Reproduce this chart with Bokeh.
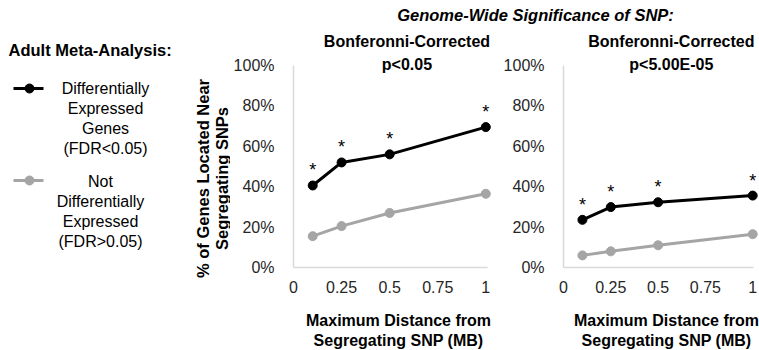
from math import pi

from bokeh.embed import file_html
from bokeh.resources import INLINE
from bokeh.plotting import figure
from bokeh.layouts import column, row
from bokeh.models import (Range1d, FixedTicker, PrintfTickFormatter,
                          CustomJSTickFormatter)
from bokeh.core.properties import value

# ---- data -------------------------------------------------------------
distance_mb = [0.1, 0.25, 0.5, 1.0]
x_ticks = [0, 0.25, 0.5, 0.75, 1]
y_ticks = [0, 20, 40, 60, 80, 100]

# % of genes located near segregating SNPs, SNP significance p<0.05
de_p05 = [40.6, 52.0, 56.0, 69.5]
not_de_p05 = [15.5, 20.5, 27.0, 36.5]
# SNP significance p<5.00E-05
de_p5e5 = [23.6, 29.9, 32.3, 35.6]
not_de_p5e5 = [6.0, 8.0, 11.0, 16.5]

significance = ["*", "*", "*", "*"]

suptitle = "Genome-Wide Significance of SNP:"
panel_titles = [("Bonferonni-Corrected", "p<0.05"),
                ("Bonferonni-Corrected", "p<5.00E-05")]
x_title = ("Maximum Distance from", "Segregating SNP (MB)")
y_title = ("% of Genes Located Near", "Segregating SNPs")
legend_heading = "Adult Meta-Analysis:"
legend_de = ["Differentially", "Expressed", "Genes", "(FDR<0.05)"]
legend_not_de = ["Not", "Differentially", "Expressed", "(FDR>0.05)"]

# ---- style ------------------------------------------------------------
FONT = "Liberation Sans"
FS = "16px"
FS_BIG = "16.5px"
BLACK = "#000000"
GRAY = "#a5a5a5"
AXIS = "#d9d9d9"
TICK_TXT = "#262626"


def blank(width, y_top, y_bottom):
    """A figure whose frame fills the canvas, in page-pixel coordinates."""
    p = figure(width=width, height=y_bottom - y_top,
               x_range=Range1d(0, width), y_range=Range1d(y_bottom, y_top),
               min_border=0, x_axis_location=None, y_axis_location=None,
               frame_align=False,
               output_backend="svg", toolbar_location=None)
    p.outline_line_color = None
    p.grid.visible = False
    return p


def label(p, x, y, texts, **kw):
    p.text(x=x, y=y, text=texts, text_font=value(FONT),
           text_font_size=kw.pop("size", FS), text_align=kw.pop("align", "center"),
           text_baseline="middle", text_color=BLACK, **kw)


# ---- top title --------------------------------------------------------
head = blank(759, 0, 28)
label(head, [535], [14], [suptitle], size=FS_BIG,
      text_font_style="bold italic")

# ---- legend + y title -------------------------------------------------
leg = blank(230, 28, 300)
label(leg, [8], [49], [legend_heading], size=FS_BIG,
      text_font_style="bold", align="left")

leg.line(x=[13, 43], y=[88, 88], line_color=BLACK, line_width=3)
leg.scatter(x=[29], y=[88], size=9, fill_color=BLACK, line_color=BLACK)
label(leg, [105] * 4, [88, 108, 128, 148], legend_de)

leg.line(x=[13, 43], y=[180, 180], line_color=GRAY, line_width=3)
leg.scatter(x=[29], y=[180], size=9, fill_color=GRAY, line_color=GRAY)
label(leg, [100] * 4, [181, 201, 221, 241], legend_not_de)

label(leg, [202, 221], [178, 178], list(y_title), angle=pi / 2,
      size=FS_BIG, text_font_style="bold")

# ---- x-axis titles ----------------------------------------------------
foot = blank(759, 300, 350)
label(foot, [398, 398], [320, 340], list(x_title), text_font_style="bold")
label(foot, [666, 666], [320, 340], list(x_title), text_font_style="bold")


# ---- panels -----------------------------------------------------------
def panel(width, x_end, border_right, axis_end, de, not_de, titles, title_x):
    p = figure(width=width, height=272,
               x_range=Range1d(0, x_end), y_range=Range1d(0, 118.3),
               min_border_left=60, min_border_right=border_right,
               min_border_top=0, min_border_bottom=33, frame_align=False,
               output_backend="svg", toolbar_location=None)
    p.outline_line_color = None
    p.grid.visible = False

    for ax in (p.xaxis[0], p.yaxis[0]):
        ax.axis_line_color = AXIS
        ax.axis_line_width = 1.5
        ax.major_tick_line_color = None
        ax.minor_tick_line_color = None
        ax.major_label_text_font = FONT
        ax.major_label_text_font_size = FS
        ax.major_label_text_color = TICK_TXT

    p.xaxis.major_label_standoff = 7
    p.xaxis.ticker = FixedTicker(ticks=x_ticks)
    p.xaxis.formatter = CustomJSTickFormatter(code="return tick.toString();")
    p.xaxis.bounds = (0, axis_end)
    p.yaxis.major_label_standoff = 13
    p.yaxis.ticker = FixedTicker(ticks=y_ticks)
    p.yaxis.formatter = PrintfTickFormatter(format="%d%%")
    p.yaxis.bounds = (0, 100)

    p.line(distance_mb, not_de, line_color=GRAY, line_width=3,
           line_join="round")
    p.scatter(distance_mb, not_de, size=9, fill_color=GRAY, line_color=GRAY)
    p.line(distance_mb, de, line_color=BLACK, line_width=3,
           line_join="round")
    p.scatter(distance_mb, de, size=9, fill_color=BLACK, line_color=BLACK)
    p.text(distance_mb, de, text=significance, y_offset=-15,
           text_font=value(FONT), text_font_size="18px",
           text_align="center", text_baseline="alphabetic",
           text_color=BLACK)

    label(p, [title_x, title_x], [111.9, 100.5], list(titles),
          text_font_style="bold")
    return p


p1 = panel(270, 1.04, 7, 1.01, de_p05, not_de_p05, panel_titles[0], 0.59)
p2 = panel(259, 1.036, 0, 1.005, de_p5e5, not_de_p5e5, panel_titles[1], 0.57)

layout = column(head, row(leg, p1, p2), foot)

open("out.html", "w").write(file_html(layout, INLINE))
